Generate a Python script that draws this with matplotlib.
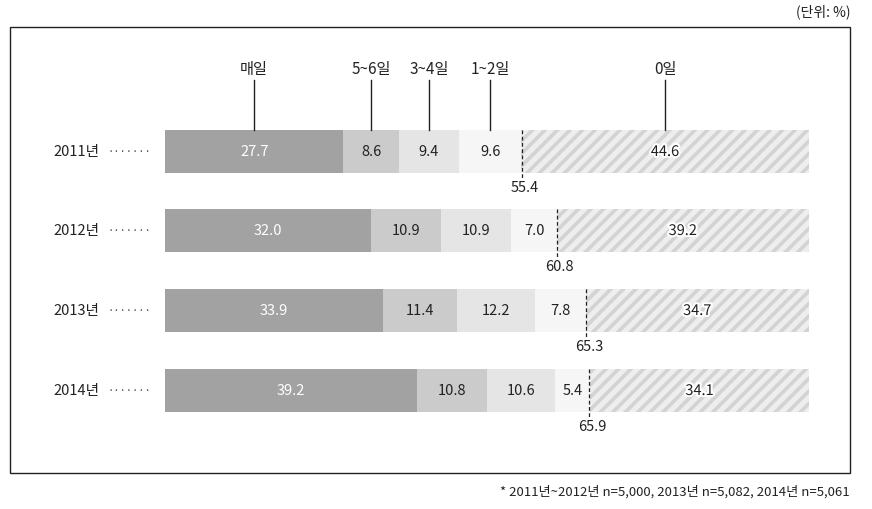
import matplotlib
matplotlib.use("Agg")
import matplotlib.pyplot as plt
import matplotlib.patheffects as pe
from matplotlib.patches import Rectangle
import numpy as np

plt.rcParams['font.family'] = ['Noto Sans CJK KR', 'DejaVu Sans']

years = ['2011년', '2012년', '2013년', '2014년']
categories = ['매일', '5~6일', '3~4일', '1~2일', '0일']
daily = [27.7, 32.0, 33.9, 39.2]
d56 = [8.6, 10.9, 11.4, 10.8]
d34 = [9.4, 10.9, 12.2, 10.6]
d12 = [9.6, 7.0, 7.8, 5.4]
d0 = [44.6, 39.2, 34.7, 34.1]
cum_labels = [55.4, 60.8, 65.3, 65.9]
unit_text = '(단위: %)'
note_text = '* 2011년~2012년 n=5,000, 2013년 n=5,082, 2014년 n=5,061'

DPI = 150
S = 100 / DPI  # scale so sizes below are "as at 100 dpi"
plt.rcParams['hatch.linewidth'] = 2.6 * S

W, H = 872, 509
fig = plt.figure(figsize=(W / DPI, H / DPI), dpi=DPI)

# outer frame
fig.patches.append(Rectangle((10 / W, 1 - 473 / H), 840 / W, 446 / H,
                             transform=fig.transFigure, fill=False,
                             edgecolor='#222222', linewidth=1.0 * S))

ax = fig.add_axes([165 / W, 0, 644 / W, 1])
ax.set_xlim(0, 100)
ax.set_ylim(H, 0)
ax.axis('off')

ycent = [151, 230, 310, 390]
bh = 43
colors = ['#a2a2a2', '#cbcbcb', '#e5e5e5', '#f6f6f6', '#eeeeee']
series = [daily, d56, d34, d12, d0]

lefts = np.zeros(len(years))
for si, (vals, col) in enumerate(zip(series, colors)):
    vals = np.array(vals)
    if si == 4:
        widths = 100 - lefts
        ax.barh(ycent, widths, left=lefts, height=bh, color=col,
                edgecolor='#d3d3d3', linewidth=0, hatch='////')
    else:
        widths = vals
        ax.barh(ycent, widths, left=lefts, height=bh, color=col, linewidth=0)
    for i, v in enumerate(vals):
        cx = lefts[i] + widths[i] / 2
        tc = 'white' if si == 0 else '#222222'
        kw = {}
        if si == 4:
            kw['path_effects'] = [pe.withStroke(linewidth=3 * S, foreground='white')]
        ax.text(cx, ycent[i] + 1, f'{v:.1f}', ha='center', va='center',
                fontsize=10.5 * S, color=tc, **kw)
        if i == 0:
            ax.plot([cx, cx], [80, ycent[0] - bh / 2], color='#222222', lw=1.0 * S)
            ax.text(cx, 69, categories[si], ha='center', va='center',
                    fontsize=11 * S, color='#222222')
    lefts = lefts + widths

for i, c in enumerate(cum_labels):
    top = ycent[i] - bh / 2
    ax.plot([c, c], [top, top + bh + 7], color='#222222', lw=0.9 * S,
            linestyle=(0, (3, 2)))
    ax.text(c + 0.5, top + bh + 15, f'{c:.1f}', ha='center', va='center',
            fontsize=10.5 * S, color='#222222')

for i, y in enumerate(years):
    fig.text(76 / W, 1 - (ycent[i] + 1) / H, y, ha='center', va='center',
             fontsize=10.5 * S, color='#222222')
    fig.text(130 / W, 1 - (ycent[i] + 1) / H, '·······', ha='center',
             va='center', fontsize=8 * S, color='#444444')

fig.text(850 / W, 1 - 12 / H, unit_text, ha='right', va='center',
         fontsize=10 * S, color='#222222')
fig.text(850 / W, 1 - 492 / H, note_text, ha='right', va='center',
         fontsize=9.5 * S, color='#222222')

fig.savefig('out.png', dpi=DPI)
